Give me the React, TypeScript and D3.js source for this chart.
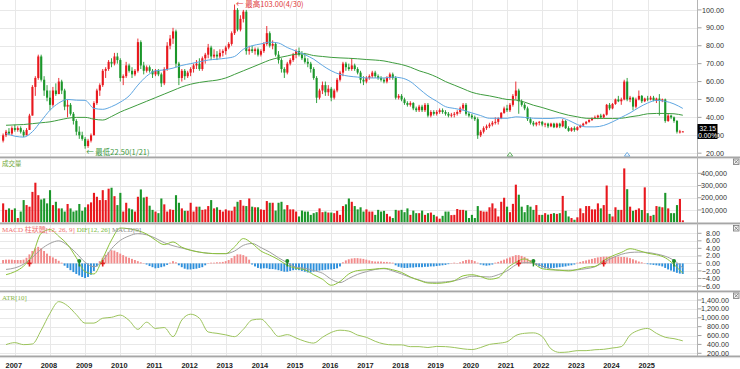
import { useEffect, useRef } from "react";
import * as d3 from "d3";

// monthly bars, first bar = Sep 2006, last bar = Jan 2026
const firstYear = 2006;
const firstMonth = 9;

const yearLabels = ["2007", "2008", "2009", "2010", "2011", "2012", "2013", "2014", "2015", "2016", "2017", "2018", "2019", "2020", "2021", "2022", "2023", "2024", "2025"];
const priceTicks = [20, 30, 40, 50, 60, 70, 80, 90, 100];
const volumeTicks = [100, 200, 300, 400]; // thousands
const macdTicks = [8, 6, 4, 2, 0, -2, -4, -6];
const atrTicks = [200, 400, 600, 800, 1000, 1200, 1400];

const opens = [
  27, 30, 32, 31,
  34, 33, 34, 32, 30, 33, 41, 57, 62, 74, 61, 55,
  51, 47, 55, 53, 60, 55, 46, 47, 42, 38, 32, 30,
  28, 24, 27, 30, 48, 55, 58, 66, 67, 71, 70, 74,
  72, 62, 63, 69, 66, 64, 66, 82, 69, 66, 68, 66,
  64, 66, 64, 59, 67, 80, 84, 88, 70, 62, 66, 63,
  65, 67, 69, 70, 67, 73, 75, 79, 74, 75, 74, 76,
  77, 79, 81, 87, 100, 89, 95, 99, 77, 78, 77, 78,
  75, 77, 81, 87, 80, 81, 75, 72, 67, 65, 70, 72,
  75, 77, 75, 73, 71, 70, 67, 62, 51, 55, 58, 54,
  56, 51, 55, 61, 65, 70, 68, 67, 69, 67, 65, 61,
  60, 62, 63, 65, 63, 62, 61, 60, 62, 64, 62, 51,
  52, 50, 48, 47, 48, 45, 44, 46, 44, 47, 41, 43,
  42, 43, 44, 43, 42, 41, 41.5, 42, 43, 45, 47, 42,
  41, 40, 39, 30, 32, 34, 35, 36, 37, 37.5, 39.5, 42.5,
  45, 44, 47, 52, 55, 49, 47, 45, 39, 37, 36, 37,
  37.5, 36, 36.5, 35, 36.5, 34.5, 36.5, 35, 38, 34, 32.5, 34,
  33, 34.5, 35.5, 36.5, 37.5, 38.5, 39.5, 40, 41, 40, 41.5, 47,
  45, 47.5, 50, 49, 50, 60, 50, 51, 46, 50, 52, 49,
  50.5, 50, 51, 49.5, 50.5, 49.5, 50, 38, 41, 40, 38, 32,
  32.15,
];
const highs = [
  31, 33, 34, 35,
  36, 35, 35, 33, 34, 42, 58, 63, 75, 75, 63, 58,
  55, 57, 59, 62, 61, 56, 50, 48, 43, 39, 35, 32,
  29, 28, 31, 49, 56, 59, 67, 68, 72, 73, 76, 76,
  73, 64, 71, 70, 68, 67, 84, 83, 71, 69, 69, 67,
  67, 67, 65, 68, 82, 86, 90, 89, 71, 67, 67, 66,
  68, 70, 72, 73, 74, 76, 81, 80, 78, 77, 78, 78,
  80, 82, 88, 103, 101, 97, 100, 100, 80, 80, 79, 79,
  78, 82, 91, 88, 83, 82, 77, 73, 68, 71, 73, 76,
  78, 79, 77, 76, 73, 71, 68, 63, 56, 60, 60, 58,
  57, 56, 62, 66, 71, 71, 70, 73, 70, 68, 66, 63,
  63, 64, 66, 66, 64, 63, 62, 63, 65, 65, 63, 53,
  53, 51, 49, 49, 48.5, 46, 47, 47, 48, 48, 44, 44,
  44, 45, 45, 44, 43, 42.5, 43, 44, 46, 48, 48, 43,
  42, 41, 40, 33, 35, 36, 37, 38, 40, 40, 43, 46,
  47, 48, 53, 60, 56, 50, 48, 46, 40, 38, 37.5, 38,
  38, 37, 37, 37, 37, 37, 37, 39, 38.5, 35, 34.5, 35,
  35, 36, 37, 38, 39, 40, 41, 41.5, 42, 42, 47.5, 48,
  48, 50.5, 52, 51, 61, 62, 52, 51.5, 51, 55, 52.5, 51,
  52, 52, 52, 51, 53, 50.5, 50.5, 42, 41.5, 40.5, 38.5, 33,
  32.4,
];
const lows = [
  26, 29, 30, 30,
  32, 32, 31, 29, 30, 33, 41, 52, 61, 60, 52, 49,
  44, 46, 52, 53, 53, 44, 40, 41, 36, 30, 28, 27,
  22.5, 23, 26, 30, 47, 52, 57, 62, 66, 68, 69, 70,
  60, 58, 62, 65, 62, 63, 65, 67, 64, 65, 65, 62,
  63, 63, 57, 58, 66, 78, 81, 68, 58, 60, 61, 62,
  63, 65, 67, 66, 66, 70, 73, 72, 73, 72, 73, 74,
  75, 78, 80, 86, 88, 88, 93, 75, 75, 76, 75, 74,
  74, 76, 80, 79, 78, 74, 70, 65, 62, 64, 69, 71,
  73, 74, 72, 70, 68, 65, 61, 48, 50, 53, 52, 52,
  49, 50, 54, 60, 63, 66, 66, 66, 66, 64, 59, 58,
  59, 61, 62, 62, 61, 60, 59, 59, 61, 61, 50, 50,
  49, 47, 46, 46, 44, 43, 43, 43, 43, 40, 40, 41,
  41, 42, 42, 41, 40, 40, 40, 41, 42, 44, 41, 40,
  39, 38, 28, 29, 31, 33, 34, 35, 36, 36, 39, 42,
  43, 43, 46, 50, 42, 46, 44, 38, 36, 35, 35, 35.5,
  35, 34.5, 34, 34.5, 34, 34, 34, 34.5, 33.5, 32, 32, 32,
  32.5, 34, 35, 36, 37, 38, 39, 39, 39.5, 39.5, 41, 44,
  44.5, 47, 48.5, 47, 49.5, 49, 48.5, 44, 45, 49.5, 48, 48.5,
  49, 49.5, 49, 48, 41, 48.5, 37, 37.5, 39, 37, 31, 31,
  31.9,
];
const closes = [
  30, 32, 31, 34,
  33, 34, 32, 30, 33, 41, 57, 62, 74, 61, 55, 51,
  47, 55, 53, 60, 55, 46, 47, 42, 38, 32, 30, 28,
  24, 27, 30, 48, 55, 58, 66, 67, 71, 70, 74, 72,
  62, 63, 69, 66, 64, 66, 82, 69, 66, 68, 66, 64,
  66, 64, 59, 67, 80, 84, 88, 70, 62, 66, 63, 65,
  67, 69, 70, 67, 73, 75, 79, 74, 75, 74, 76, 77,
  79, 81, 87, 100, 89, 95, 99, 77, 78, 77, 78, 75,
  77, 81, 87, 80, 81, 75, 72, 67, 65, 70, 72, 75,
  77, 75, 73, 71, 70, 67, 62, 51, 55, 58, 54, 56,
  51, 55, 61, 65, 70, 68, 67, 69, 67, 65, 61, 60,
  62, 63, 65, 63, 62, 61, 60, 62, 64, 62, 51, 52,
  50, 48, 47, 48, 45, 44, 46, 44, 47, 41, 43, 42,
  43, 44, 43, 42, 41, 41.5, 42, 43, 45, 47, 42, 41,
  40, 39, 30, 32, 34, 35, 36, 37, 37.5, 39.5, 42.5, 45,
  44, 47, 52, 55, 49, 47, 45, 39, 37, 36, 37, 37.5,
  36, 36.5, 35, 36.5, 34.5, 36.5, 35, 38, 34, 32.5, 34, 33,
  34.5, 35.5, 36.5, 37.5, 38.5, 39.5, 40, 41, 40, 41.5, 47, 45,
  47.5, 50, 49, 50, 60, 50, 51, 46, 50, 52, 49, 50.5,
  50, 51, 49.5, 50.5, 49.5, 50, 38, 41, 40, 38, 32, 32.15,
  32.15,
];
// volume in thousands of lots
const volumes = [
  154, 101, 113, 101,
  113, 34, 87, 181, 140, 127, 248, 323, 221, 186, 194, 154,
  262, 140, 167, 113, 113, 87, 149, 113, 87, 95, 149, 93,
  122, 146, 162, 240, 208, 181, 262, 181, 274, 282, 213, 140,
  240, 87, 159, 113, 105, 87, 208, 268, 202, 208, 135, 101,
  87, 74, 194, 146, 87, 105, 101, 221, 159, 113, 93, 93,
  159, 87, 127, 127, 101, 105, 132, 181, 113, 122, 101, 87,
  105, 95, 93, 127, 167, 181, 135, 132, 194, 127, 122, 122,
  105, 101, 173, 159, 159, 95, 159, 167, 105, 140, 105, 105,
  87, 47, 95, 87, 87, 60, 74, 82, 113, 82, 87, 79,
  79, 74, 93, 60, 132, 146, 194, 167, 132, 105, 122, 87,
  105, 87, 87, 60, 101, 87, 93, 68, 47, 34, 101, 95,
  101, 82, 113, 60, 95, 74, 74, 95, 60, 74, 79, 60,
  47, 29, 52, 87, 87, 58, 60, 108, 101, 101, 95, 34,
  60, 34, 132, 93, 87, 87, 122, 154, 113, 47, 167, 200,
  127, 82, 150, 307, 225, 127, 82, 140, 127, 101, 140, 60,
  60, 74, 62, 68, 74, 68, 74, 215, 93, 47, 34, 20,
  40, 113, 74, 132, 132, 105, 105, 154, 113, 140, 300, 68,
  47, 122, 101, 101, 440, 270, 127, 93, 101, 113, 100, 285,
  74, 52, 60, 132, 127, 122, 240, 113, 74, 74, 140, 190,
  15,
];
const macdHist = [
  0.9, 1.0, 1.0, 1.0,
  0.9, 0.9, 0.9, 1.0, 1.5, 2.4, 3.3, 4.0, 4.4, 4.0, 3.3, 2.6,
  2.0, 1.6, 1.2, 0.7, 0.2, -0.6, -1.2, -1.8, -2.3, -2.8, -3.2, -3.6,
  -3.9, -3.6, -3.0, -2.0, -0.8, 0.6, 1.5, 2.3, 3.0, 3.5, 3.4, 3.0,
  2.6, 2.2, 1.8, 1.5, 1.2, 0.9, 0.6, 0.3, 0.1, -0.3, -0.7, -1.0,
  -1.3, -1.2, -1.0, -0.8, -0.4, 0.2, 0.6, 0.3, -0.5, -1.0, -1.4, -1.6,
  -1.6, -1.5, -1.4, -1.2, -1.0, -0.5, 0.1, 0.2, 0.2, 0.3, 0.3, 0.4,
  0.6, 0.9, 1.4, 2.0, 2.4, 2.4, 2.2, 1.8, 1.0, -0.3, -0.8, -1.2,
  -1.4, -1.3, -1.3, -1.5, -1.5, -1.6, -1.8, -2.0, -2.2, -2.2, -2.0, -1.8,
  -1.7, -1.8, -2.0, -2.2, -2.4, -2.4, -2.2, -2.0, -1.9, -1.8, -1.7, -1.6,
  -1.6, -1.5, -1.3, -0.8, 0.3, 0.8, 1.1, 1.3, 1.4, 1.4, 1.3, 1.2,
  1.0, 0.8, 0.6, 0.5, 0.5, 0.5, 0.4, 0.4, 0.3, 0.2, -0.5, -0.9,
  -1.1, -1.2, -1.2, -1.1, -1.1, -1.0, -1.0, -1.0, -0.9, -0.9, -0.8, -0.8,
  -0.7, -0.6, -0.5, -0.4, -0.2, 0.1, 0.2, 0.1, 0.3, 0.6, 0.9, 1.0,
  0.9, 0.6, 0.2, -0.3, -0.5, -0.6, -0.5, -0.3, 0.2, 0.4, 0.7, 1.0,
  1.3, 1.6, 1.9, 2.2, 2.2, 2.0, 1.7, 1.3, 0.9, 0.4, -0.4, -0.8,
  -1.1, -1.3, -1.3, -1.2, -1.2, -1.1, -1.0, -0.9, -0.8, -0.6, -0.5, -0.3,
  0.2, 0.4, 0.6, 0.8, 1.0, 1.2, 1.4, 1.6, 1.7, 1.8, 1.8, 1.8,
  1.8, 1.8, 1.8, 1.7, 1.7, 1.6, 1.4, 1.1, 0.8, 0.5, 0.3, 0.1,
  -0.2, -0.3, -0.4, -0.5, -0.6, -0.8, -1.2, -1.6, -1.9, -2.2, -2.5, -2.7,
  -2.8,
];

// smooth indicator lines read every 3rd bar, starting at bar 1 (Oct 2006)
const lineStart = 1;
const lineStep = 3;
const maShort = [
  31, 29.5, 29, 32, 38, 44, 48, 50, 49.6, 49.5, 45, 44.5,
  46, 48.5, 52, 58, 63, 66, 66.5, 67.5, 69, 70, 71, 72,
  72.5, 73, 74, 78, 80, 81, 82, 81.5, 79, 77, 75, 72.5,
  69, 66, 64, 63, 62.5, 62, 62, 62, 62.5, 62, 60, 56,
  52, 49, 46, 45, 44, 42.5, 41, 39.5, 39.5, 39.5, 40.3, 40,
  39.5, 39.4, 39.4, 39.8, 38.4, 36, 34.7, 34.7, 35.5, 37.5, 40, 42.5,
  45.5, 48, 49.5, 49, 47.5, 45,
];
const maLong = [
  35.6, 35.8, 36, 36.5, 37, 37.5, 38.5, 39.5, 40, 40, 39, 38.5,
  40.5, 43, 45, 47, 49, 51, 53, 55, 57, 58.5, 59.5, 60.2,
  60.8, 62, 64, 66, 68, 70, 72, 73.3, 74.3, 75.3, 75.5, 74.5,
  74, 73.5, 73.2, 73, 72.7, 72.3, 72, 71.5, 70.5, 69.5, 68, 66,
  64.5, 62.5, 60, 58, 56, 54, 52.8, 52, 51, 50, 49.7, 48.5,
  46.8, 45.5, 44, 42.5, 41.2, 40.3, 39.5, 39.4, 39.4, 39.4, 39.5, 40.3,
  41, 42, 42.2, 42.2, 42, 41.2,
];
const difLine = [
  -3.0, -2.2, -0.7, 2.2, 8.0, 9.0, 7.2, 5.0, 1.5, -2.2, -2.8, 1.3,
  6.2, 9.4, 9.2, 8.7, 7.8, 6.2, 5.0, 5.7, 4.3, 3.5, 3.0, 2.7,
  2.6, 2.6, 4.4, 6.6, 5.3, 3.3, 2.2, 1.0, -0.5, -1.3, -1.7, -3.0,
  -4.2, -5.8, -4.8, -2.8, -1.9, -1.7, -1.5, -1.3, -1.7, -2.4, -3.6, -4.5,
  -5.2, -5.3, -5.1, -4.6, -3.3, -3.0, -3.5, -4.2, -3.8, -1.3, 0.3, 1.2,
  0.0, -1.4, -1.7, -1.8, -2.0, -1.6, -1.0, -0.8, 0.8, 2.0, 2.9, 3.9,
  3.4, 2.7, 2.3, 1.5, -0.3, -2.6,
];
const macdLine = [
  -1.6, -1.2, -0.2, 1.6, 3.8, 5.3, 6.0, 4.8, 2.7, 0.3, -0.9, 0.7,
  3.9, 6.1, 7.3, 7.9, 7.6, 6.7, 5.5, 4.7, 4.1, 3.5, 3.0, 2.7,
  2.6, 2.6, 3.3, 4.8, 5.3, 4.2, 3.0, 1.5, 0.2, -1.0, -1.3, -1.9,
  -2.6, -4.2, -5.1, -4.0, -2.9, -2.2, -1.6, -1.4, -2.0, -2.8, -3.7, -4.4,
  -5.0, -5.0, -4.9, -4.6, -4.0, -3.4, -3.5, -3.6, -3.0, -2.0, -0.4, 0.2,
  0.1, -0.7, -1.5, -1.8, -1.8, -1.7, -1.4, -0.9, 0.3, 1.5, 2.4, 2.9,
  3.0, 2.9, 2.5, 1.9, 0.8, -1.2,
];
const atrLine = [
  395, 440, 395, 410, 720, 1100, 1363, 1270, 1070, 880, 880, 990,
  1010, 1060, 940, 740, 900, 760, 780, 575, 950, 1080, 990, 680,
  650, 615, 575, 740, 950, 970, 790, 580, 620, 545, 470, 430,
  560, 670, 720, 700, 610, 560, 470, 410, 390, 390, 350, 350,
  330, 355, 350, 330, 300, 285, 330, 400, 425, 460, 600, 650,
  660, 580, 300, 220, 230, 260, 260, 280, 290, 320, 350, 610,
  720, 760, 650, 560, 530, 480,
];

// DIF zero-line crossings (bar index)
const crossUpBars = [9, 34, 176, 205];
const crossDownBars = [26, 97, 181, 229];
// small event triangles under the price panel (bar index)
const eventBars = [173, 213];
const eventColors = ["#4fa64f", "#5fa3df"];

const RED = "#e8181e";
const GREEN = "#1b962a";
const GRID = "#e8e8e8";
const SANS = "'Liberation Sans', Arial, sans-serif";
const LABEL = "'Liberation Serif', 'Noto Sans CJK TC', serif";
const CJK = "'Noto Sans CJK TC', 'Liberation Sans', sans-serif";

export default function App() {
  const svgRef = useRef<SVGSVGElement | null>(null);

  useEffect(() => {
    if (!svgRef.current) return;
    const svg = d3.select(svgRef.current);
    svg.selectAll("*").remove();

    const n = closes.length;
    const plotRight = 697;
    const x = d3.scaleLinear().domain([0, n - 1]).range([3.1, 682.8]);
    const janBar = (year: string) => (+year - firstYear) * 12 + (1 - firstMonth);
    const sampleX = (m: number) => x(lineStart + m * lineStep);

    const yPrice = d3.scaleLinear().domain([20, 100]).range([153.2, 9.9]);
    const yVol = d3.scaleLinear().domain([0, 400]).range([222.2, 173.3]);
    const yMacd = d3.scaleLinear().domain([-6, 8]).range([286, 233.3]);
    const yAtr = d3.scaleLinear().domain([200, 1400]).range([353.3, 300]);

    svg.append("rect").attr("width", 740).attr("height", 369).attr("fill", "#fff");

    // grid
    const grid = svg.append("g").attr("stroke", GRID).attr("stroke-width", 1).attr("shape-rendering", "crispEdges");
    yearLabels.forEach((yr) => {
      const gx = Math.round(x(janBar(yr))) + 0.5;
      grid.append("line").attr("x1", gx).attr("x2", gx).attr("y1", 0).attr("y2", 356);
    });
    const hGrid = (ticks: number[], scale: (v: number) => number) =>
      ticks.forEach((t) => {
        const gy = Math.round(scale(t)) + 0.5;
        grid.append("line").attr("x1", 0).attr("x2", plotRight).attr("y1", gy).attr("y2", gy);
      });
    hGrid(priceTicks, yPrice);
    hGrid(volumeTicks, yVol);
    hGrid(macdTicks, yMacd);
    hGrid(atrTicks, yAtr);

    // candles
    const candle = svg.append("g").selectAll("g").data(d3.range(n)).join("g");
    const colorOf = (k: number) => (closes[k] >= opens[k] ? RED : GREEN);
    candle
      .append("line")
      .attr("x1", (k) => x(k))
      .attr("x2", (k) => x(k))
      .attr("y1", (k) => yPrice(highs[k]))
      .attr("y2", (k) => yPrice(lows[k]))
      .attr("stroke", colorOf)
      .attr("stroke-width", 0.9);
    candle
      .append("rect")
      .attr("x", (k) => x(k) - 1)
      .attr("width", 2.1)
      .attr("y", (k) => yPrice(Math.max(opens[k], closes[k])))
      .attr("height", (k) => Math.max(1, Math.abs(yPrice(opens[k]) - yPrice(closes[k]))))
      .attr("fill", colorOf);

    // moving averages
    const pLine = d3
      .line<number>()
      .x((_, m) => sampleX(m))
      .y((v) => yPrice(v))
      .curve(d3.curveMonotoneX);
    svg.append("path").attr("d", pLine(maLong)).attr("fill", "none").attr("stroke", "#3e9c3e").attr("stroke-width", 1);
    svg.append("path").attr("d", pLine(maShort)).attr("fill", "none").attr("stroke", "#5ea6e2").attr("stroke-width", 1);

    // high / low notes
    const hiBar = highs.indexOf(d3.max(highs) as number);
    const loBar = lows.indexOf(d3.min(lows) as number);
    svg
      .append("text")
      .attr("x", x(hiBar) + 1.5)
      .attr("y", yPrice(highs[hiBar]) + 2.5)
      .attr("font-family", CJK)
      .attr("font-size", 7.5)
      .attr("fill", "#e03a3a")
      .text("← 最高103.00(4/30)");
    svg
      .append("text")
      .attr("x", x(loBar) + 1)
      .attr("y", yPrice(lows[loBar]) + 6)
      .attr("font-family", CJK)
      .attr("font-size", 7.5)
      .attr("fill", "#3a963a")
      .text("← 最低22.50(1/21)");

    // event triangles
    eventBars.forEach((k, j) => {
      const tx = x(k);
      svg
        .append("path")
        .attr("d", `M${tx - 2.8},156.2 L${tx},152.4 L${tx + 2.8},156.2 Z`)
        .attr("fill", "#fff")
        .attr("stroke", eventColors[j])
        .attr("stroke-width", 0.9);
    });

    // volume
    svg
      .append("g")
      .selectAll("rect")
      .data(d3.range(n))
      .join("rect")
      .attr("x", (k) => x(k) - 1)
      .attr("width", 2.1)
      .attr("y", (k) => yVol(volumes[k]))
      .attr("height", (k) => yVol(0) - yVol(volumes[k]))
      .attr("fill", colorOf);

    // MACD histogram + lines
    svg
      .append("g")
      .selectAll("rect")
      .data(d3.range(n))
      .join("rect")
      .attr("x", (k) => x(k) - 1)
      .attr("width", 1.9)
      .attr("y", (k) => Math.min(yMacd(macdHist[k]), yMacd(0)))
      .attr("height", (k) => Math.abs(yMacd(macdHist[k]) - yMacd(0)))
      .attr("fill", (k) => (macdHist[k] >= 0 ? "#f28a8a" : "#2d90dc"));
    const mLine = d3
      .line<number>()
      .x((_, m) => sampleX(m))
      .y((v) => yMacd(v))
      .curve(d3.curveMonotoneX);
    svg.append("path").attr("d", mLine(macdLine)).attr("fill", "none").attr("stroke", "#a0a0a0").attr("stroke-width", 1);
    svg.append("path").attr("d", mLine(difLine)).attr("fill", "none").attr("stroke", "#8cc23c").attr("stroke-width", 1);
    crossUpBars.forEach((k) => {
      const cx = x(k);
      const cy = yMacd(0);
      svg.append("path").attr("d", `M${cx},${cy - 3.5}V${cy + 3}M${cx - 2.2},${cy}H${cx + 2.2}`).attr("stroke", "#e02020").attr("stroke-width", 1.6);
    });
    crossDownBars.forEach((k) => {
      const cx = x(k);
      const cy = yMacd(0);
      svg.append("path").attr("d", `M${cx},${cy - 2}V${cy + 3}`).attr("stroke", "#1d8a2a").attr("stroke-width", 1.4);
      svg.append("circle").attr("cx", cx).attr("cy", cy - 2.5).attr("r", 2).attr("fill", "#1d8a2a");
    });

    // ATR
    const aLine = d3
      .line<number>()
      .x((_, m) => sampleX(m))
      .y((v) => yAtr(v))
      .curve(d3.curveMonotoneX);
    svg.append("path").attr("d", aLine(atrLine)).attr("fill", "none").attr("stroke", "#9cc45c").attr("stroke-width", 1);

    // panel separators and right axis
    [157.5, 223.5, 291.5, 356.5].forEach((sy) => {
      svg.append("rect").attr("x", 0).attr("y", sy - 1).attr("width", 740).attr("height", 1.6).attr("fill", "#a6a6a6");
      svg.append("rect").attr("x", 0).attr("y", sy + 0.6).attr("width", 740).attr("height", 1).attr("fill", "#dcdcdc");
    });
    svg.append("line").attr("x1", plotRight + 0.5).attr("x2", plotRight + 0.5).attr("y1", 0).attr("y2", 356).attr("stroke", "#b4b4b4");

    const axisText = (ticks: number[], scale: (v: number) => number, fmt: (v: number) => string, right: number) =>
      ticks.forEach((t) => {
        const ty = scale(t);
        svg.append("line").attr("x1", 698).attr("x2", 701.5).attr("y1", ty).attr("y2", ty).attr("stroke", "#8a8a8a").attr("stroke-width", 0.8);
        svg
          .append("text")
          .attr("x", right)
          .attr("y", ty + 2.6)
          .attr("text-anchor", "end")
          .attr("font-family", SANS)
          .attr("font-size", 7.2)
          .attr("fill", "#333")
          .text(fmt(t));
      });
    axisText(priceTicks, yPrice, d3.format(".2f"), 724);
    axisText(volumeTicks, yVol, (v) => d3.format(",")(v * 1000), 727);
    axisText(macdTicks, yMacd, d3.format(".2f"), 720);
    axisText(atrTicks, yAtr, d3.format(",.2f"), 729);

    // last price box
    svg.append("rect").attr("x", 697.5).attr("y", 124).attr("width", 20).attr("height", 15).attr("fill", "#000");
    svg.append("text").attr("x", 699.5).attr("y", 130.5).attr("font-family", SANS).attr("font-size", 6.6).attr("fill", "#fff").text(d3.format(".2f")(closes[n - 1]));
    svg.append("text").attr("x", 698.3).attr("y", 137.6).attr("font-family", SANS).attr("font-size", 6.6).attr("fill", "#fff").text("0.00%");

    // close icons
    [159, 225.5, 293].forEach((iy) => {
      const g = svg.append("g").attr("stroke", "#777").attr("stroke-width", 0.8).attr("fill", "none");
      g.append("rect").attr("x", 733.5).attr("y", iy).attr("width", 5.5).attr("height", 5.5).attr("fill", "#f2f2f2");
      g.append("path").attr("d", `M734.5,${iy + 1}L738,${iy + 4.5}M738,${iy + 1}L734.5,${iy + 4.5}`);
    });

    // panel titles
    svg.append("text").attr("x", 2).attr("y", 166).attr("font-family", CJK).attr("font-size", 6.5).attr("fill", "#74a83a").text("成交量");
    const macdTitle = svg.append("text").attr("x", 2).attr("y", 231.5).attr("font-family", LABEL).attr("font-size", 7);
    macdTitle.append("tspan").attr("fill", "#ef6f6f").text("MACD 柱狀體[12, 26, 9] ");
    macdTitle.append("tspan").attr("fill", "#78b83a").text("DIF[12, 26] ");
    macdTitle.append("tspan").attr("fill", "#8a8a8a").text("MACD[9]");
    svg.append("text").attr("x", 2).attr("y", 299.5).attr("font-family", LABEL).attr("font-size", 7).attr("fill", "#86b545").text("ATR[10]");

    // year labels
    yearLabels.forEach((yr) => {
      svg
        .append("text")
        .attr("x", x(janBar(yr)) - 1)
        .attr("y", 368)
        .attr("text-anchor", "middle")
        .attr("font-family", SANS)
        .attr("font-weight", 700)
        .attr("font-size", 7.4)
        .attr("fill", "#222")
        .text(yr);
    });
  }, []);

  return <svg ref={svgRef} width={740} height={369} style={{ position: "absolute", left: 0, top: 0 }} />;
}
